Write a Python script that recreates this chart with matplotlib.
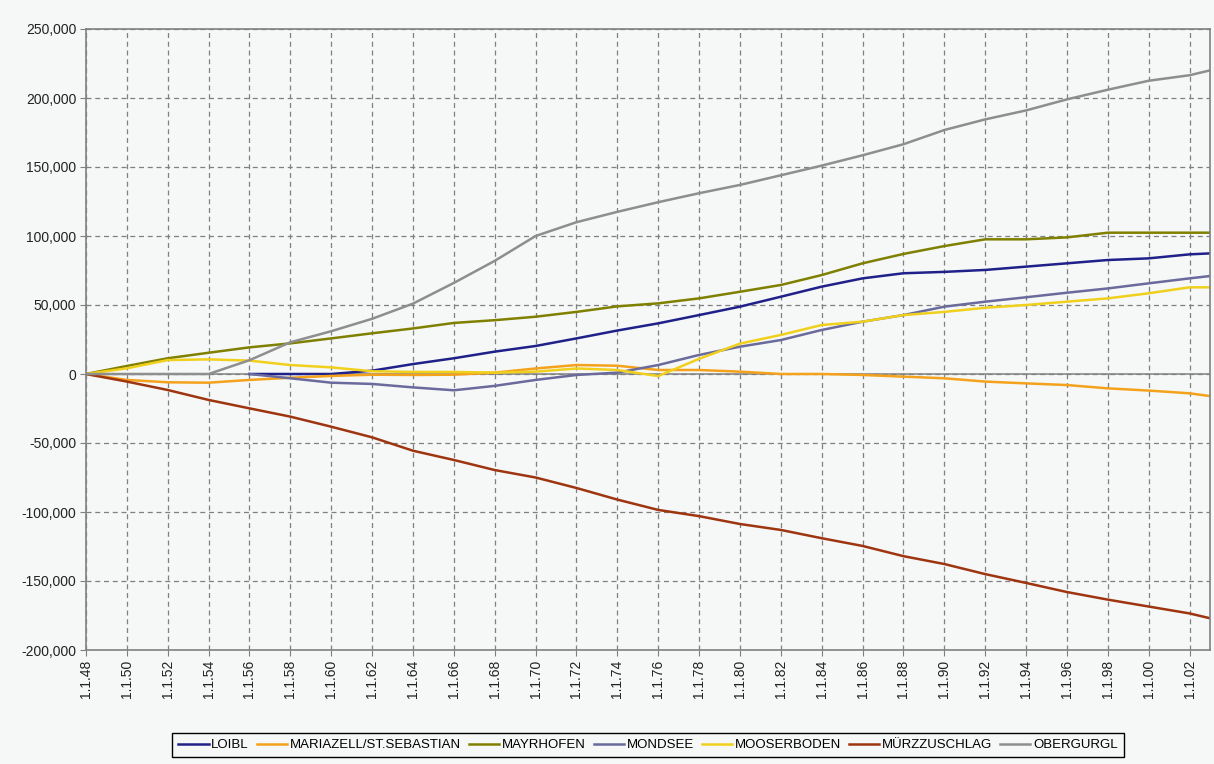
import matplotlib
matplotlib.use("Agg")
import matplotlib.pyplot as plt
from matplotlib.ticker import FuncFormatter
import numpy as np

# Kumulierte Abweichungen je Station, Stützstellen alle zwei Jahre (1.1.)
years = [1948, 1950, 1952, 1954, 1956, 1958, 1960, 1962, 1964, 1966, 1968, 1970, 1972, 1974,
         1976, 1978, 1980, 1982, 1984, 1986, 1988, 1990, 1992, 1994, 1996, 1998, 2000, 2002, 2003]

nan = np.nan
loibl = [nan, nan, nan, nan, 0, 0, 0, 2400, 7200, 11400, 16200, 20300, 25800, 31500,
         36700, 42700, 48800, 56000, 63300, 69300, 73000, 74000, 75400, 77800, 80200, 82600, 83800, 86700, 87400]
mariazell = [0, -4300, -6000, -6300, -4300, -2700, -1400, -500, -700, -500, 1000, 4000, 6500, 6000,
             2900, 2900, 1700, 0, 0, -700, -1900, -3100, -5500, -6800, -8000, -10400, -12000, -14000, -16000]
mayrhofen = [0, 5800, 11400, 15400, 19300, 22200, 25800, 29500, 33000, 37000, 39000, 41500, 45000, 49000,
             51200, 54800, 59600, 64500, 71700, 80200, 87000, 92700, 97600, 97600, 99000, 102400, 102400, 102400, 102400]
mondsee = [nan, nan, nan, nan, 0, -3100, -6300, -7200, -9700, -11800, -8600, -4300, -700, 1000,
           6500, 13800, 19800, 24600, 31900, 37900, 42700, 48800, 52400, 55600, 58900, 62000, 65700, 69300, 71000]
mooserboden = [0, 4100, 10100, 10600, 9700, 6500, 4800, 2000, 1500, 1500, 1000, 1700, 4000, 2900,
               -1500, 11000, 22000, 28300, 35500, 37900, 42700, 45000, 48000, 50000, 52400, 54800, 58500, 62800, 62800]
muerzzuschlag = [0, -5500, -11600, -18800, -24900, -30900, -38200, -45900, -55600, -62300, -69600, -75000, -82600, -91000,
                 -98500, -103000, -108700, -113000, -119000, -124600, -132000, -137700, -145000, -151400, -158000,
                 -163500, -168500, -173500, -177000]
obergurgl = [0, 0, 0, 0, 10000, 23000, 31000, 40000, 51000, 66000, 82000, 100000, 110000, 117500,
             124500, 131000, 137000, 144000, 151000, 158500, 166500, 176800, 184500, 191000, 199000, 206000,
             212500, 216500, 220000]

stations = ['LOIBL', 'MARIAZELL/ST.SEBASTIAN', 'MAYRHOFEN', 'MONDSEE', 'MOOSERBODEN', 'MÜRZZUSCHLAG', 'OBERGURGL']
series = [loibl, mariazell, mayrhofen, mondsee, mooserboden, muerzzuschlag, obergurgl]
colors = ['#20208a', '#f4a11c', '#808000', '#6a6a9c', '#f0d01c', '#9e3510', '#8e8e8e']

tick_years = list(range(1948, 2003, 2))
tick_labels = ['1.1.%02d' % (y % 100) for y in tick_years]

bg = '#f5f8f6'
plt.rcParams['font.family'] = ['Liberation Sans', 'DejaVu Sans']

fig = plt.figure(figsize=(12.14, 7.64), dpi=100, facecolor=bg)
ax = fig.add_axes([86 / 1214, 1 - 650 / 764, 1124 / 1214, 621 / 764])
ax.set_facecolor(bg)

# Gitter gestrichelt, Nulllinie durchgezogen
ax.grid(True, color='#808080', linestyle=(0, (4, 3)), linewidth=0.9)
ax.axhline(0, color='#8a8a8a', linewidth=1.2, zorder=1.5)

for name, vals, c in zip(stations, series, colors):
    ax.plot(years, vals, color=c, linewidth=1.8, label=name, zorder=2)

ax.set_xlim(1948, 2003)
ax.set_ylim(-200000, 250000)
ax.set_yticks(range(-200000, 250001, 50000))
ax.yaxis.set_major_formatter(FuncFormatter(lambda v, p: f'{v:,.0f}'))
ax.set_xticks(tick_years)
ax.set_xticklabels(tick_labels, rotation=90)

for sp in ax.spines.values():
    sp.set_color('#808080')
    sp.set_linewidth(1.2)
ax.tick_params(colors='#808080', labelcolor='#222222', labelsize=10, length=4, pad=3)

leg = ax.legend(loc='center', bbox_to_anchor=(0.5, -0.153), ncol=7, fontsize=9.5,
                frameon=True, fancybox=False, facecolor=bg, edgecolor='black', framealpha=1,
                handlelength=2.3, handletextpad=0.2, columnspacing=0.6, borderpad=0.45)
leg.get_frame().set_linewidth(1.0)

fig.savefig('out.png', dpi=100, facecolor=bg)
